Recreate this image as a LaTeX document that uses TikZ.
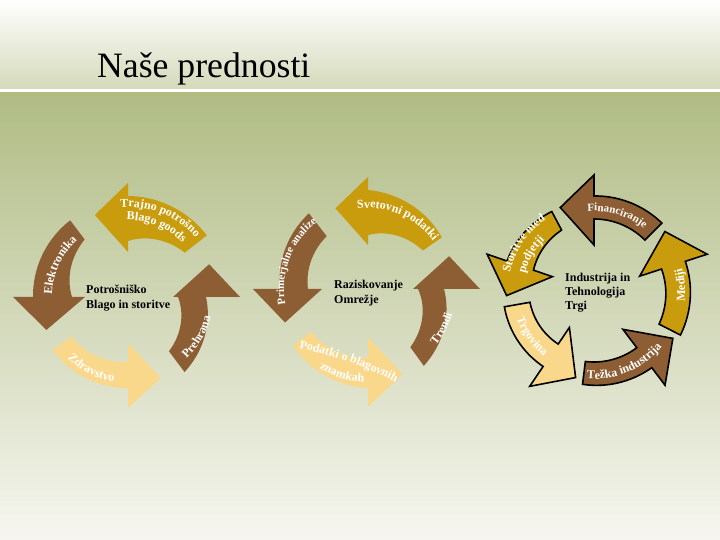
\documentclass[tikz,border=0pt]{standalone}
\usepackage{fontspec}
\setmainfont{Liberation Serif}
\usetikzlibrary{decorations.text}
\definecolor{goldA}{RGB}{201,156,14}
\definecolor{brownA}{RGB}{141,94,52}
\definecolor{lightA}{RGB}{249,216,140}
\definecolor{bgTop}{RGB}{212,218,186}
\definecolor{bgMid}{RGB}{176,188,132}
\definecolor{bgBot}{RGB}{246,246,240}
\newcommand\atf{\fontsize{12}{14}\selectfont\bfseries}
\newcommand\atfs{\fontsize{11}{13}\selectfont\bfseries}
% #1 style, #2 tail angle, #3 head-base angle, #4/#5 inner/outer radius at tail,
% #6/#7 inner/outer radius at head, #8/#9 inner/outer radius of the head base
\newcommand\cyarrow[9]{%
  \path[#1] (#2:#4pt) -- (#2:#5pt)
   -- plot[domain=#2:#3, samples=40, variable=\q]
      ({(#5+(#7-#5)*(\q-(#2))/(#3-(#2)))*cos(\q)},{(#5+(#7-#5)*(\q-(#2))/(#3-(#2)))*sin(\q)})
   -- (#3:#9pt) -- ({#3+22}:{((#8+#9)/2+9)*1pt}) -- (#3:#8pt) -- (#3:#6pt)
   -- plot[domain=#3:#2, samples=40, variable=\q]
      ({(#4+(#6-#4)*(\q-(#2))/(#3-(#2)))*cos(\q)},{(#4+(#6-#4)*(\q-(#2))/(#3-(#2)))*sin(\q)})
   -- cycle;}
\newcommand\cwtext[4]{%
  \path[decorate, decoration={text along path, text align=center, text color=white, text={|#3|#4}}]
    ({#1+60}:#2pt) arc[start angle={#1+60}, end angle={#1-60}, radius=#2pt];}
\newcommand\ccwtext[4]{%
  \path[decorate, decoration={text along path, text align=center, text color=white, text={|#3|#4}}]
    ({#1-60}:#2pt) arc[start angle={#1-60}, end angle={#1+60}, radius=#2pt];}
\begin{document}
\begin{tikzpicture}[x=1pt,y=1pt,
  ctr/.style={anchor=base west, inner sep=0pt, font=\fontsize{12}{14}\selectfont\bfseries},
  outl/.style={draw=black, line width=1.6pt, line join=miter}]
\useasboundingbox (0,0) rectangle (720,540);
% background
\shade[top color=white, bottom color=bgTop] (0,451) rectangle (720,540);
\fill[white] (0,447) rectangle (720,451);
\shade[top color=bgMid, bottom color=bgBot] (0,0) rectangle (720,447);
\node[anchor=base west, inner sep=0pt, font=\fontsize{35.7}{40}\selectfont] (title) at (97,462) {Naše prednosti};

% cycle 1
\begin{scope}[shift={(128,243)}]
\cyarrow{fill=goldA}{38}{90}{72}{100}{56}{101}{45}{114}
\cyarrow{fill=brownA}{127}{180}{72}{96}{56}{95}{43}{115}
\cyarrow{fill=lightA}{215}{270}{69}{92}{65}{91}{46}{111}
\cyarrow{fill=brownA}{307}{360}{68}{94}{50}{78}{45}{112}
\cwtext{68}{90}{\atf}{Trajno potrošno}
\cwtext{68}{77}{\atf}{Blago goods}
\cwtext{155}{76}{\atf}{Elektronika}
\ccwtext{243}{86}{\atf}{Zdravstvo}
\ccwtext{330}{85}{\atf}{Prehrana}
\end{scope}
\node[ctr] (c1a) at (86,246) {Potrošniško};
\node[ctr] (c1b) at (86,231) {Blago in storitve};

% cycle 2
\begin{scope}[shift={(368,251)}]
\cyarrow{fill=goldA}{35}{90}{67}{90}{54}{99}{44}{112}
\cyarrow{fill=brownA}{128}{180}{67}{96}{60}{88}{46}{115}
\cyarrow{fill=lightA}{217}{270}{71}{94}{69}{99}{48}{118}
\cyarrow{fill=brownA}{306}{360}{72}{95}{50}{76}{45}{112}
\cwtext{67}{81}{\atf}{Svetovni podatki}
\cwtext{159}{84}{\atfs}{Primerjalne analize}
\ccwtext{253}{93}{\atf}{znamkah}
\ccwtext{332}{88}{\atf}{Trendi}
\end{scope}
\path[decorate, decoration={text along path, text align=center, text color=white, text={|\atf|Podatki o blagovnih}}]
  (289,194) to[bend left=8] (405,153);
\node[ctr] (c2a) at (334,251) {Raziskovanje};
\node[ctr] (c2b) at (334,236) {Omrežje};

% cycle 3
\begin{scope}[shift={(594,249)}]
\cyarrow{fill=brownA,outl}{45}{90}{72}{96}{72}{95}{46}{116}
\cyarrow{fill=goldA,outl}{-27}{18}{73}{97}{71}{96}{48}{119}
\cyarrow{fill=brownA,outl}{263}{307}{71}{94}{71}{96}{48}{118}
\cyarrow{fill=lightA,outl}{190}{236}{65}{91}{64}{91}{44}{115}
\cyarrow{fill=goldA,outl}{118}{161}{69}{90}{64}{92}{44}{113}
\cwtext{73}{80}{\atfs}{Financiranje}
\ccwtext{4}{91}{\atf}{Mediji}
\ccwtext{293}{88}{\atf}{Težka industrija}
\ccwtext{216}{82}{\atf}{Trgovina}
\cwtext{146}{86}{\atf}{Storitve med}
\cwtext{150}{71}{\atf}{podjetji}
\end{scope}
\node[ctr] (c3a) at (565,258) {Industrija in};
\node[ctr] (c3b) at (565,244) {Tehnologija};
\node[ctr] (c3c) at (565,230) {Trgi};
\end{tikzpicture}
\end{document}
